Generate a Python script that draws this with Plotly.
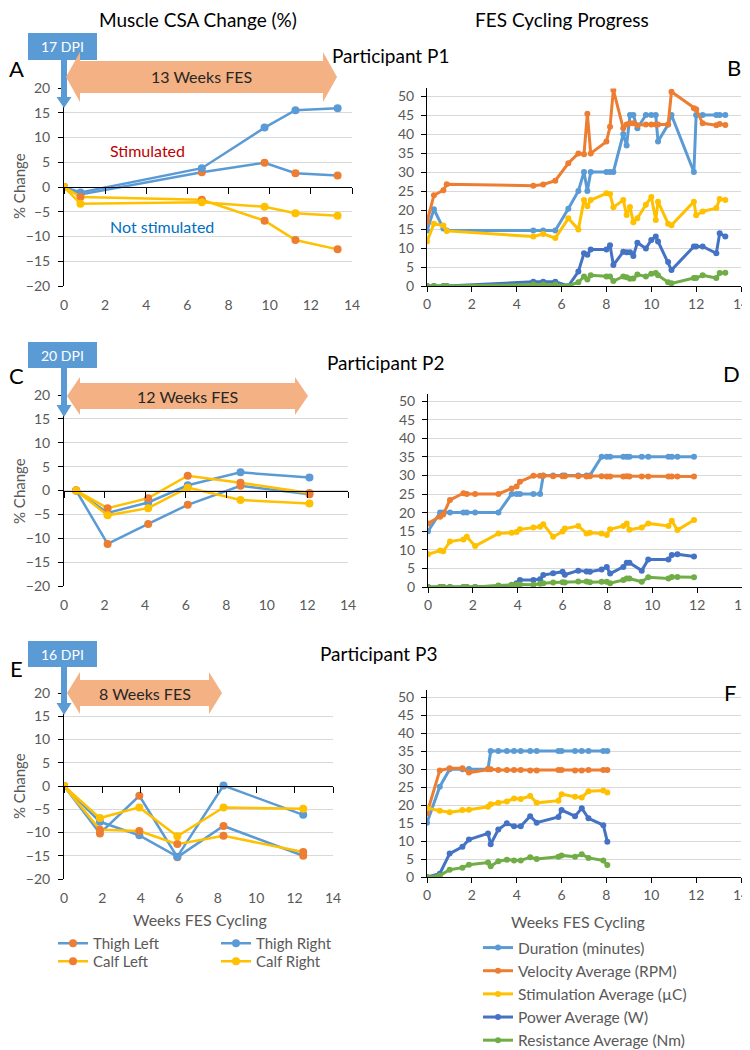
"""Muscle CSA change and FES cycling progress for three participants."""
import plotly.graph_objects as go

# ---- muscle cross-sectional area change (%) ----
p1_weeks = [0, 0.8, 6.7, 9.75, 11.25, 13.3]
p1_thigh_left = [0, -1.5, 3.0, 4.9, 2.8, 2.3]
p1_thigh_right = [0, -1.1, 3.8, 12.0, 15.5, 15.9]
p1_calf_left = [0, -2.0, -2.6, -6.8, -10.7, -12.6]
p1_calf_right = [0, -3.4, -3.1, -4.0, -5.3, -5.8]

p2_weeks = [0.6, 2.15, 4.15, 6.1, 8.7, 12.1]
p2_thigh_left = [0, -11.2, -7.0, -3.0, 1.0, -0.8]
p2_thigh_right = [0, -4.7, -2.5, 1.1, 3.8, 2.7]
p2_calf_left = [0, -3.7, -1.6, 3.1, 1.6, -0.5]
p2_calf_right = [0, -5.2, -3.7, 0.6, -2.0, -2.7]

p3_weeks = [0, 1.87, 3.92, 5.9, 8.3, 12.45]
p3_thigh_left = [0, -10.2, -2.1, -15.3, -8.6, -15.0]
p3_thigh_right = [0, -7.7, -10.6, -15.2, 0.1, -6.2]
p3_calf_left = [0, -9.4, -9.7, -12.5, -10.7, -14.2]
p3_calf_right = [0, -6.9, -4.6, -10.8, -4.6, -4.9]

# ---- FES cycling progress ----
p1_fes_weeks = [0, 0.31, 0.73, 0.88, 4.74, 5.18, 5.72, 6.3, 6.75, 7.0, 7.15,
                7.3, 8.0, 8.16, 8.31, 8.75, 8.9, 9.05, 9.2, 9.38, 9.76, 10.0,
                10.2, 10.3, 10.75, 10.9, 11.9, 12.0, 12.29, 12.9, 13.05, 13.3]
p1_duration = [14.6, 20.2, 15.1, 14.6, 14.6, 14.6, 14.6, 20.3, 25.0, 30.0,
               25.0, 30.0, 30.0, 30.0, 30.0, 40.0, 37.0, 45.0, 45.0, 41.5,
               45.0, 45.0, 45.0, 38.0, 42.5, 45.0, 30.0, 45.0, 45.0, 45.0,
               45.0, 45.0]
p1_velocity = [16.9, 23.9, 25.2, 26.8, 26.4, 26.7, 27.7, 32.3, 34.9, 34.7,
               45.3, 34.9, 38.0, 41.9, 51.6, 41.5, 42.5, 42.8, 42.8, 42.3,
               42.5, 42.5, 42.5, 42.5, 42.5, 51.1, 46.8, 46.5, 42.8, 42.3,
               42.6, 42.4]
p1_stimulation = [11.7, 16.4, 15.9, 14.5, 13.0, 13.7, 12.6, 17.8, 14.9, 22.6,
                  21.0, 22.6, 24.4, 24.2, 20.7, 22.6, 18.7, 20.8, 16.8, 17.8,
                  21.4, 23.4, 17.4, 22.2, 16.4, 16.0, 22.2, 18.6, 19.6, 20.5,
                  22.9, 22.6]
p1_power = [0, 0, 0, 0, 1.1, 1.1, 1.1, 0, 3.8, 8.6, 8.2, 9.6, 9.6, 10.7, 5.5,
            9.0, 8.9, 8.9, 7.9, 11.4, 9.9, 12.1, 13.0, 11.7, 6.3, 4.2, 10.4,
            10.4, 10.4, 8.6, 13.9, 13.0]
p1_resistance = [0, 0, 0, 0, 0.4, 0.4, 0.4, 0, 1.0, 2.5, 1.7, 2.8, 2.5, 2.5,
                 1.3, 2.5, 2.3, 1.9, 2.0, 3.0, 2.5, 3.2, 3.4, 2.8, 1.0, 0.7,
                 2.1, 2.1, 2.8, 2.1, 3.4, 3.5]

p2_fes_weeks = [0, 0.54, 0.68, 0.98, 1.58, 1.73, 2.1, 3.14, 3.73, 3.95, 4.1,
                4.7, 5.0, 5.14, 5.58, 6.0, 6.1, 6.7, 7.07, 7.22, 7.74, 7.97,
                8.12, 8.71, 8.86, 8.98, 9.53, 9.82, 10.72, 10.87, 11.12, 11.86]
p2_duration = [15, 20, 20, 20, 20, 20, 20, 20, 25, 25, 25, 25, 25, 30, 30, 30,
               30, 30, 30, 30, 35, 35, 35, 35, 35, 35, 35, 35, 35, 35, 35, 35]
p2_velocity = [17.1, 18.9, 19.5, 23.4, 25.2, 25.0, 25.0, 25.0, 26.5, 27.0,
               28.3, 29.9, 29.9, 29.9, 29.8, 29.8, 29.8, 29.8, 29.7, 29.8,
               29.8, 29.7, 29.7, 29.7, 29.8, 29.7, 29.7, 29.7, 29.7, 29.7,
               29.7, 29.7]
p2_stimulation = [8.8, 9.8, 9.6, 12.2, 12.8, 13.5, 11.0, 14.4, 14.6, 14.8,
                  15.5, 16.0, 16.2, 16.9, 13.5, 14.9, 15.7, 16.4, 14.4, 14.6,
                  14.4, 14.0, 15.5, 16.4, 17.1, 15.4, 16.0, 17.1, 16.4, 17.8,
                  15.3, 18.0]
p2_power = [0, 0, 0, 0, 0, 0, 0, 0.3, 0.5, 1.0, 1.9, 1.9, 2.1, 3.2, 3.7, 4.1,
            3.3, 4.4, 4.2, 4.1, 4.7, 5.4, 3.6, 5.4, 6.5, 6.5, 4.4, 7.4, 7.4,
            8.6, 8.8, 8.2]
p2_resistance = [0, 0, 0, 0, 0, 0, 0, 0.4, 0.6, 0.6, 0.7, 0.6, 0.9, 1.0, 1.2,
                 1.3, 1.2, 1.5, 1.5, 1.3, 1.4, 1.4, 1.0, 1.9, 2.3, 2.3, 1.4,
                 2.6, 2.3, 2.7, 2.7, 2.6]

p3_fes_weeks = [0, 0.57, 1.01, 1.58, 1.87, 2.72, 2.84, 3.18, 3.56, 3.88, 4.18,
                4.6, 4.89, 5.86, 6.0, 6.6, 6.9, 7.2, 7.86, 8.04]
p3_duration = [15.1, 25.1, 29.9, 29.9, 30.0, 30.0, 35, 35, 35, 35, 35, 35, 35,
               35, 35, 35, 35, 35, 35, 35]
p3_velocity = [17.7, 29.6, 30.2, 30.2, 29.0, 29.9, 29.9, 29.7, 29.7, 29.7,
               29.7, 29.6, 29.6, 29.7, 29.7, 29.6, 29.6, 29.7, 29.7, 29.7]
p3_stimulation = [19.2, 18.4, 18.0, 18.6, 18.7, 19.5, 20.2, 20.6, 21.0, 21.8,
                  21.7, 22.5, 20.6, 21.2, 23.0, 22.3, 22.1, 23.8, 24.0, 23.5]
p3_power = [0, 0.9, 6.5, 8.4, 10.4, 12.1, 9.1, 13.2, 14.9, 14.1, 14.1, 16.9,
            15.1, 16.7, 18.6, 16.9, 19.1, 16.3, 14.4, 9.8]
p3_resistance = [0, 0.4, 2.0, 2.6, 3.4, 4.0, 3.0, 4.4, 4.8, 4.6, 4.6, 5.5,
                 5.0, 5.6, 6.0, 5.6, 6.3, 5.3, 4.6, 3.3]

participants = ['Participant P1', 'Participant P2', 'Participant P3']
dpi_labels = ['17 DPI', '20 DPI', '16 DPI']
fes_labels = ['13 Weeks FES', '12 Weeks FES', '8 Weeks FES']

# the page body adds an 8px margin, so the figure is drawn 8px in
PAD = 8
W, H = 750 - PAD, 1050 - PAD
FONT = 'Lato, Arial, sans-serif'
GREY = '#595959'
GRID = '#D9D9D9'
BLUE = '#5B9BD5'
ORANGE = '#ED7D31'
YELLOW = '#FFC000'
DBLUE = '#4472C4'
GREEN = '#70AD47'
PEACH = '#F4B183'


def fx(p):
    return (p - PAD) / W


def fy(p):
    return 1 - (p - PAD) / H


def pts(points):
    return ' L '.join(f'{fx(x):.5f},{fy(y):.5f}' for x, y in points)


fig = go.Figure()

muscle = [
    (p1_weeks, [p1_thigh_left, p1_thigh_right, p1_calf_left, p1_calf_right]),
    (p2_weeks, [p2_thigh_left, p2_thigh_right, p2_calf_left, p2_calf_right]),
    (p3_weeks, [p3_thigh_left, p3_thigh_right, p3_calf_left, p3_calf_right]),
]
muscle_style = [
    ('Thigh Left', BLUE, ORANGE, 'legend'),
    ('Thigh Right', BLUE, BLUE, 'legend'),
    ('Calf Left', YELLOW, ORANGE, 'legend3'),
    ('Calf Right', YELLOW, YELLOW, 'legend3'),
]
fes = [
    (p1_fes_weeks, [p1_duration, p1_velocity, p1_stimulation, p1_power,
                    p1_resistance]),
    (p2_fes_weeks, [p2_duration, p2_velocity, p2_stimulation, p2_power,
                    p2_resistance]),
    (p3_fes_weeks, [p3_duration, p3_velocity, p3_stimulation, p3_power,
                    p3_resistance]),
]
fes_style = [
    ('Duration (minutes)', BLUE),
    ('Velocity Average (RPM)', ORANGE),
    ('Stimulation Average (µC)', YELLOW),
    ('Power Average (W)', DBLUE),
    ('Resistance Average (Nm)', GREEN),
]

# pixel boxes of the plot areas: (left, right, top, bottom)
left_boxes = [(64, 352, 88, 286), (64, 348, 395, 586), (64, 333, 693, 879)]
# right panels: top is where 50 sits; the area reaches a little higher
right_boxes = [(427, 741, 96, 286), (428, 742, 401, 587), (427, 741, 697, 877)]
RIGHT_TOP = 52

tickfont = dict(family=FONT, size=14, color=GREY)
layout_axes = {}

for i, (weeks, series) in enumerate(muscle):
    n = 2 * i + 1
    xa, ya = f'x{n if n > 1 else ""}', f'y{n if n > 1 else ""}'
    for (name, lc, mc, leg), vals in zip(muscle_style, series):
        fig.add_trace(go.Scatter(
            x=weeks, y=vals, name=name, mode='lines+markers',
            line=dict(color=lc, width=2.5),
            marker=dict(color=mc, size=8),
            xaxis=xa, yaxis=ya, legend=leg, showlegend=(i == 2),
        ))
    l, r, t, b = left_boxes[i]
    layout_axes[f'xaxis{n if n > 1 else ""}'] = dict(
        domain=[fx(l), fx(r)], range=[0, 14], dtick=2, anchor=ya,
        automargin=False, showgrid=False, zeroline=False, showline=False,
        ticks='outside', ticklen=6, tickcolor='rgba(0,0,0,0)',
        tickfont=tickfont, ticklabeloverflow='allow',
    )
    layout_axes[f'yaxis{n if n > 1 else ""}'] = dict(
        domain=[fy(b), fy(t)], range=[-20, 20], dtick=5, anchor=xa,
        automargin=False, showgrid=True, gridcolor=GRID, gridwidth=1,
        zeroline=False, showline=True, linecolor='black', linewidth=1,
        ticks='outside', ticklen=5, tickcolor='black', tickfont=tickfont,
        ticklabelstandoff=5,
    )
    # horizontal axis crossing at zero, with its tick marks
    k = 7 + i
    layout_axes[f'xaxis{k}'] = dict(
        overlaying=xa, anchor='free', position=(fy(b) + fy(t)) / 2,
        range=[0, 14], dtick=2, automargin=False, showgrid=False,
        zeroline=False, showline=True, linecolor='black', linewidth=1.3,
        ticks='outside', ticklen=6, tickcolor='black', showticklabels=False,
    )
    fig.add_trace(go.Scatter(x=[], y=[], xaxis=f'x{k}', yaxis=ya,
                             showlegend=False, hoverinfo='skip'))

for i, (weeks, series) in enumerate(fes):
    n = 2 * i + 2
    xa, ya = f'x{n}', f'y{n}'
    for (name, col), vals in zip(fes_style, series):
        fig.add_trace(go.Scatter(
            x=weeks, y=vals, name=name, mode='lines+markers',
            line=dict(color=col, width=3),
            marker=dict(color=col, size=6),
            xaxis=xa, yaxis=ya, legend='legend2', showlegend=(i == 2),
        ))
    l, r, t, b = right_boxes[i]
    top = b - (b - t) * RIGHT_TOP / 50
    layout_axes[f'xaxis{n}'] = dict(
        domain=[fx(l), fx(r)], range=[0, 14], dtick=2, anchor=ya,
        automargin=False, showgrid=False, zeroline=False, showline=True,
        linecolor='black', linewidth=1.3, ticks='outside', ticklen=5,
        tickcolor='black', tickfont=tickfont, ticklabeloverflow='allow',
    )
    layout_axes[f'yaxis{n}'] = dict(
        domain=[fy(b), fy(top)], range=[0, RIGHT_TOP], tick0=0, dtick=5,
        anchor=xa, automargin=False, showgrid=True, gridcolor=GRID,
        gridwidth=1, zeroline=False, showline=True, linecolor='black',
        linewidth=1, ticks='outside', ticklen=5, tickcolor='black',
        tickfont=tickfont, ticklabelstandoff=4,
    )

# DPI markers and FES duration arrows (pixel geometry)
shapes = []
annotations = []
dpi_boxes = [(33, 60, 97, 108), (342, 368, 405, 417), (641, 667, 703, 715)]
fes_arrows = [(66, 337, 77, 16, 25, 14), (67, 308, 396, 13, 19, 13),
              (67, 222, 693, 13, 21, 13)]
for i in range(3):
    top, bot, base, tip = dpi_boxes[i]
    shapes.append(dict(type='rect', xref='paper', yref='paper',
                       x0=fx(28), x1=fx(97), y0=fy(bot), y1=fy(top),
                       fillcolor=BLUE, line=dict(width=0)))
    shapes.append(dict(type='path', xref='paper', yref='paper',
                       path='M ' + pts([(61, bot - 1), (67, bot - 1),
                                        (67, base), (71.5, base), (64, tip),
                                        (56.5, base), (61, base)]) + ' Z',
                       fillcolor=BLUE, line=dict(width=0)))
    annotations.append(dict(text=dpi_labels[i], x=fx(62.5),
                            y=fy((top + bot) / 2), xref='paper',
                            yref='paper', showarrow=False,
                            xanchor='center', yanchor='middle',
                            font=dict(family=FONT, size=14, color='white')))
    xl, xr, cy, bh, hh, hl = fes_arrows[i]
    shapes.append(dict(type='path', xref='paper', yref='paper',
                       path='M ' + pts([
                           (xl, cy), (xl + hl, cy - hh), (xl + hl, cy - bh),
                           (xr - hl, cy - bh), (xr - hl, cy - hh), (xr, cy),
                           (xr - hl, cy + hh), (xr - hl, cy + bh),
                           (xl + hl, cy + bh), (xl + hl, cy + hh)]) + ' Z',
                       fillcolor=PEACH, line=dict(width=0)))
    annotations.append(dict(text=fes_labels[i], x=fx((xl + xr) / 2),
                            y=fy(cy), xref='paper', yref='paper',
                            showarrow=False, xanchor='center',
                            yanchor='middle',
                            font=dict(family=FONT, size=16,
                                      color='#262626')))

# free texts: (text, x px, y px, size, colour, angle)
text_items = [
    ('Muscle CSA Change (%)', 198, 20, 19, 'black', 0),
    ('FES Cycling Progress', 562, 20, 19, 'black', 0),
    (participants[0], 391, 56, 19, 'black', 0),
    (participants[1], 385, 362, 19, 'black', 0),
    (participants[2], 378, 653, 19, 'black', 0),
    ('A', 16, 69, 22, 'black', 0),
    ('B', 734, 67, 22, 'black', 0),
    ('C', 16, 375, 22, 'black', 0),
    ('D', 731, 373, 22, 'black', 0),
    ('E', 16, 668, 22, 'black', 0),
    ('F', 730, 692, 22, 'black', 0),
    ('Stimulated', 147, 150, 16, '#C00000', 0),
    ('Not stimulated', 162, 226, 16, '#0070C0', 0),
    ('% Change', 19, 186, 15, GREY, -90),
    ('% Change', 19, 491, 15, GREY, -90),
    ('% Change', 19, 786, 15, GREY, -90),
    ('Weeks FES Cycling', 200, 919, 16, GREY, 0),
    ('Weeks FES Cycling', 578, 921, 16, GREY, 0),
]
for text, x, y, size, col, ang in text_items:
    annotations.append(dict(text=text, x=fx(x), y=fy(y), xref='paper',
                            yref='paper', showarrow=False, textangle=ang,
                            xanchor='center', yanchor='middle',
                            font=dict(family=FONT, size=size, color=col)))

legend_font = dict(family=FONT, size=15, color=GREY)
fig.update_layout(
    width=W, height=H,
    margin=dict(l=0, r=0, t=0, b=0, autoexpand=False),
    paper_bgcolor='white', plot_bgcolor='white',
    font=dict(family=FONT, color=GREY),
    shapes=shapes, annotations=annotations,
    legend=dict(orientation='h', x=fx(53), y=fy(927), xanchor='left',
                yanchor='top', entrywidth=118, entrywidthmode='pixels',
                font=legend_font, bgcolor='rgba(0,0,0,0)'),
    legend3=dict(orientation='h', x=fx(53), y=fy(945), xanchor='left',
                 yanchor='top', entrywidth=118, entrywidthmode='pixels',
                 font=legend_font, bgcolor='rgba(0,0,0,0)'),
    legend2=dict(orientation='v', x=fx(478), y=fy(931), xanchor='left',
                 yanchor='top', font=dict(family=FONT, size=15.5,
                                          color=GREY),
                 bgcolor='rgba(0,0,0,0)'),
    **layout_axes,
)

fig.write_html('out.html')
